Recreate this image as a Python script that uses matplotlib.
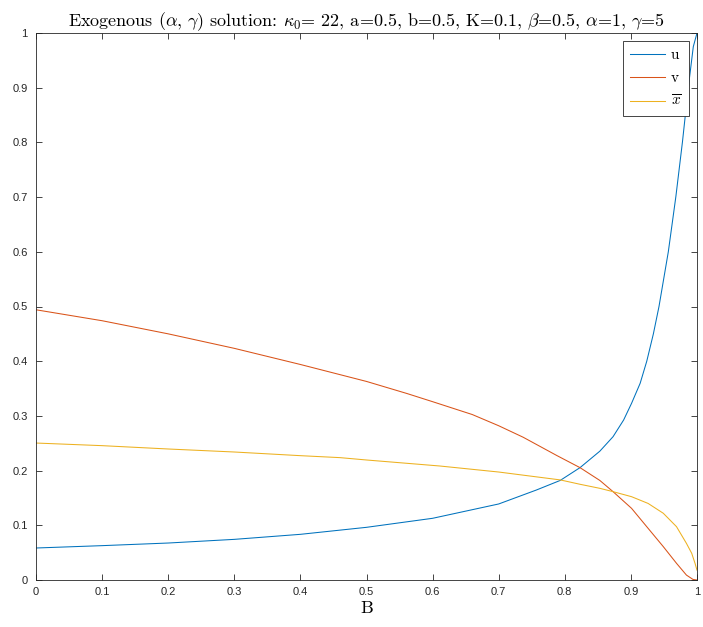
import matplotlib
matplotlib.use("Agg")
import matplotlib.pyplot as plt

plt.rcParams['mathtext.fontset'] = 'cm'

# Data
B_u = [0.0, 0.1, 0.2, 0.3, 0.4, 0.5, 0.6, 0.7, 0.757, 0.793, 0.823, 0.853, 0.873, 0.889,
       0.901, 0.914, 0.924, 0.934, 0.9425, 0.9566, 0.968, 0.978, 0.987, 0.9944, 1.0]
u = [0.0585, 0.0628, 0.0676, 0.0743, 0.0835, 0.0963, 0.1128, 0.139, 0.1645, 0.182, 0.2054,
     0.2355, 0.262, 0.2925, 0.323, 0.3596, 0.400, 0.450, 0.500, 0.600, 0.7007, 0.801, 0.902, 0.975, 1.0]

B_v = [0.0, 0.1, 0.2, 0.3, 0.4, 0.5, 0.561, 0.6, 0.66, 0.7, 0.737, 0.788, 0.823, 0.853, 0.873, 0.901,
       0.926, 0.949, 0.969, 0.984, 0.994, 1.0]
v = [0.494, 0.474, 0.450, 0.4235, 0.394, 0.363, 0.341, 0.326, 0.3025, 0.282, 0.261, 0.2275, 0.2054,
     0.182, 0.1615, 0.131, 0.0945, 0.061, 0.0305, 0.009, 0.001, 0.0]

B_x = [0.0, 0.1, 0.2, 0.3, 0.4, 0.46, 0.5, 0.611, 0.7, 0.793, 0.823, 0.853, 0.873, 0.901, 0.926,
       0.949, 0.969, 0.984, 0.992, 0.997, 1.0]
xbar = [0.2504, 0.2456, 0.2395, 0.234, 0.2273, 0.2237, 0.2194, 0.2084, 0.1974, 0.183, 0.175,
        0.1676, 0.1615, 0.1523, 0.140, 0.122, 0.0975, 0.067, 0.0488, 0.0305, 0.018]

ticks = [0, 0.1, 0.2, 0.3, 0.4, 0.5, 0.6, 0.7, 0.8, 0.9, 1]
ticklabels = ['0', '0.1', '0.2', '0.3', '0.4', '0.5', '0.6', '0.7', '0.8', '0.9', '1']

fig = plt.figure(figsize=(7.03, 6.27), dpi=100)
ax = fig.add_axes([36/703, 1-580/627, (697-36)/703, (580-33)/627])

ax.plot(B_u, u, color='#0072BD', lw=0.75, label='u')
ax.plot(B_v, v, color='#D95319', lw=0.75, label='v')
ax.plot(B_x, xbar, color='#EDB120', lw=0.75, label=r'$\overline{x}$')

ax.set_xlim(0, 1)
ax.set_ylim(0, 1)
ax.set_xticks(ticks)
ax.set_xticklabels(ticklabels, fontfamily='Liberation Sans')
ax.set_yticks(ticks)
ax.set_yticklabels(ticklabels, fontfamily='Liberation Sans')
ax.tick_params(direction='in', top=True, right=True, length=4.5, width=0.6,
               labelsize=8, colors='#262626')
ax.tick_params(axis='x', pad=5)
ax.tick_params(axis='y', pad=6)
for s in ax.spines.values():
    s.set_color('#262626')
    s.set_linewidth(0.6)

ax.set_title(r'Exogenous $(\alpha,\,\gamma)$ solution: $\kappa_0$= 22, a=0.5, b=0.5, K=0.1, $\beta$=0.5, $\alpha$=1, $\gamma$=5',
             fontfamily='cmr10', fontsize=13, pad=5)
ax.set_xlabel('B', fontfamily='cmr10', fontsize=13, labelpad=3)

leg = ax.legend(loc='upper right', prop={'family': 'cmr10', 'size': 11},
                fancybox=False, framealpha=1, edgecolor='#262626',
                handlelength=2.3, handletextpad=0.4, borderpad=0.45,
                borderaxespad=0.55, labelspacing=0.6)
leg.get_frame().set_linewidth(0.6)

fig.savefig('out.png', dpi=100)
